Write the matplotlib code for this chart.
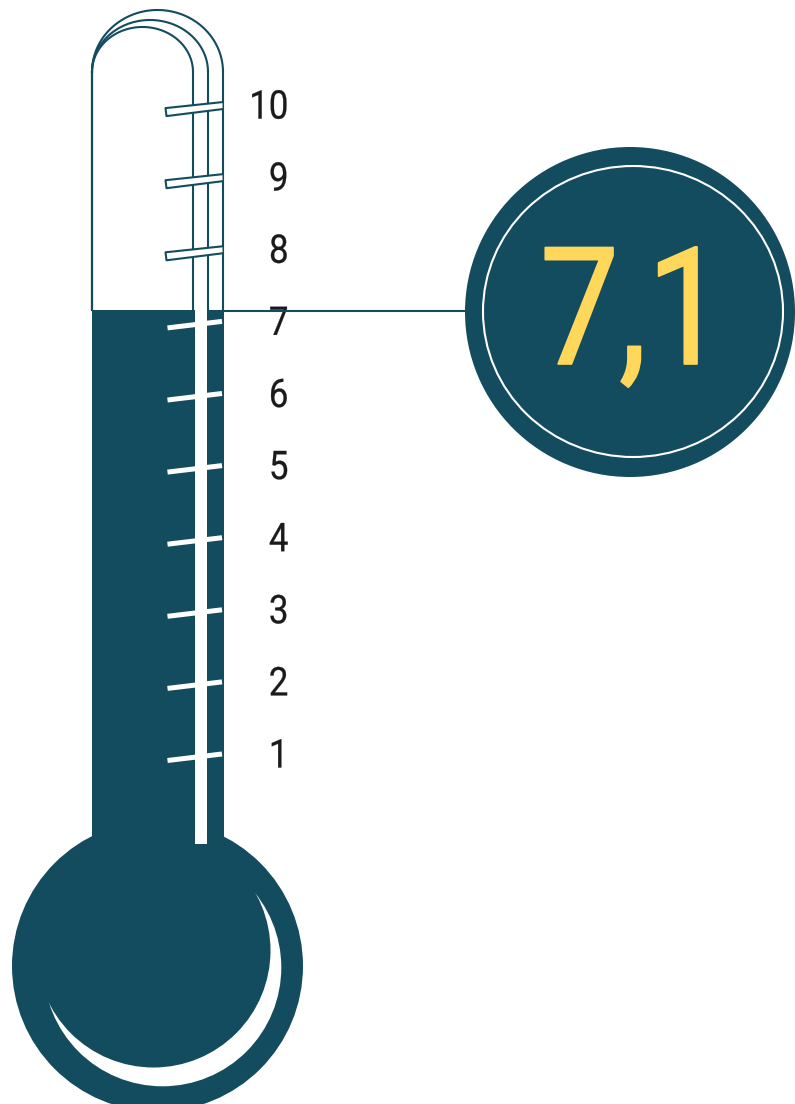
import matplotlib
matplotlib.use("Agg")
import matplotlib.pyplot as plt
import matplotlib.patheffects as pe
import numpy as np
from matplotlib.patches import Circle, Ellipse, Polygon, Rectangle
from matplotlib.transforms import Affine2D

TEAL = "#134c5f"
YELLOW = "#ffd75a"

scale_values = [1, 2, 3, 4, 5, 6, 7, 8, 9, 10]
scale_labels = ["1", "2", "3", "4", "5", "6", "7", "8", "9", "10"]
level = 7.1
level_label = "7,1"

plt.rcParams["font.family"] = ["Roboto", "DejaVu Sans"]

fig = plt.figure(figsize=(7.95, 11.04), dpi=100)
ax = fig.add_axes([0, 0, 1, 1])
ax.set_xlim(0, 795)
ax.set_ylim(1104, 0)  # pixel layout, y pointing down
ax.axis("off")


class Condensed(pe.AbstractPathEffect):
    # squeeze glyphs sideways around x0 (display px) and thicken them a little,
    # the reference font is narrower and heavier than Roboto
    def __init__(self, x0, factor, stroke=0.0):
        super().__init__()
        self.x0 = x0
        self.factor = factor
        self.stroke = stroke

    def draw_path(self, renderer, gc, tpath, affine, rgbFace=None):
        squeeze = Affine2D().translate(-self.x0, 0).scale(self.factor, 1).translate(self.x0, 0)
        gc0 = renderer.new_gc()
        gc0.copy_properties(gc)
        gc0.set_linewidth(self.stroke)
        gc0.set_foreground(rgbFace)
        renderer.draw_path(gc0, tpath, affine + squeeze, rgbFace)
        gc0.restore()


def value_y(v):
    # scale of the thermometer: 72.1 px per unit, 1 sits at y=752
    return 752 - (v - 1) * 72.1


def dome(cx, rx, ry, base=72):
    t = np.linspace(np.pi, 2 * np.pi, 120)
    return cx + rx * np.cos(t), base + ry * np.sin(t)


level_y = value_y(level) - 2

# glass outline
lw = 1.5
for cx, rx, ry in [(157.5, 65.5, 62), (150, 58, 52), (142.5, 50.5, 45)]:
    x, y = dome(cx, rx, ry)
    ax.plot(x, y, color=TEAL, lw=lw, zorder=2)
    ax.plot([x[0], x[0]], [72, level_y], color=TEAL, lw=lw, zorder=2)
    ax.plot([x[-1], x[-1]], [72, level_y], color=TEAL, lw=lw, zorder=2)

# liquid and bulb
ax.add_patch(Rectangle((91.5, level_y), 132, 845 - level_y, color=TEAL, lw=0, zorder=3))
ax.add_patch(Circle((157.5, 966), 145.5, color=TEAL, lw=0, zorder=3))
ax.add_patch(Circle((162.5, 967.5), 118.8, color="white", lw=0, zorder=4))
ax.add_patch(Circle((153.5, 950.5), 117, color=TEAL, lw=0, zorder=5))
ax.add_patch(Rectangle((195, level_y), 12, 844 - level_y, color="white", lw=0, zorder=6))

# ticks, outlined above the level and solid below it
for v, lab in zip(scale_values, scale_labels):
    y = value_y(v) + 2.5
    if v > level:
        top = [(165.5, y + 2.5), (222.5, y - 3.5)]
        bot = [(222.5, y + 3.5), (166.5, y + 10.5)]
        ax.add_patch(Polygon(top + bot, closed=True, color="white", lw=0, zorder=7))
        ax.plot([top[1][0], top[0][0], bot[1][0], bot[0][0]],
                [top[1][1], top[0][1], bot[1][1], bot[0][1]],
                color=TEAL, lw=lw, zorder=8)
    else:
        ax.plot([167.5, 222], [y + 6, y - 0.5], color="white", lw=3.6,
                solid_capstyle="butt", zorder=7)
    ax.text(288.5, value_y(v), lab, fontsize=28.5, color="#1a1a1a", ha="right",
            va="center_baseline", zorder=9,
            path_effects=[Condensed(288.5, 0.88, 0.2)])

# callout
ax.plot([223, 470], [level_y + 1, level_y + 1], color=TEAL, lw=1.5, zorder=10)
ax.add_patch(Circle((630, 312), 165, color=TEAL, lw=0, zorder=11))
ax.add_patch(Ellipse((633, 311.5), 300, 291, fill=False, ec="white", lw=1.5, zorder=12))
ax.text(633, 364, level_label, fontsize=118, color=YELLOW, ha="center", va="baseline",
        zorder=13, path_effects=[Condensed(633, 0.86, 1.2)])

fig.savefig("out.png", dpi=100, facecolor="white")
